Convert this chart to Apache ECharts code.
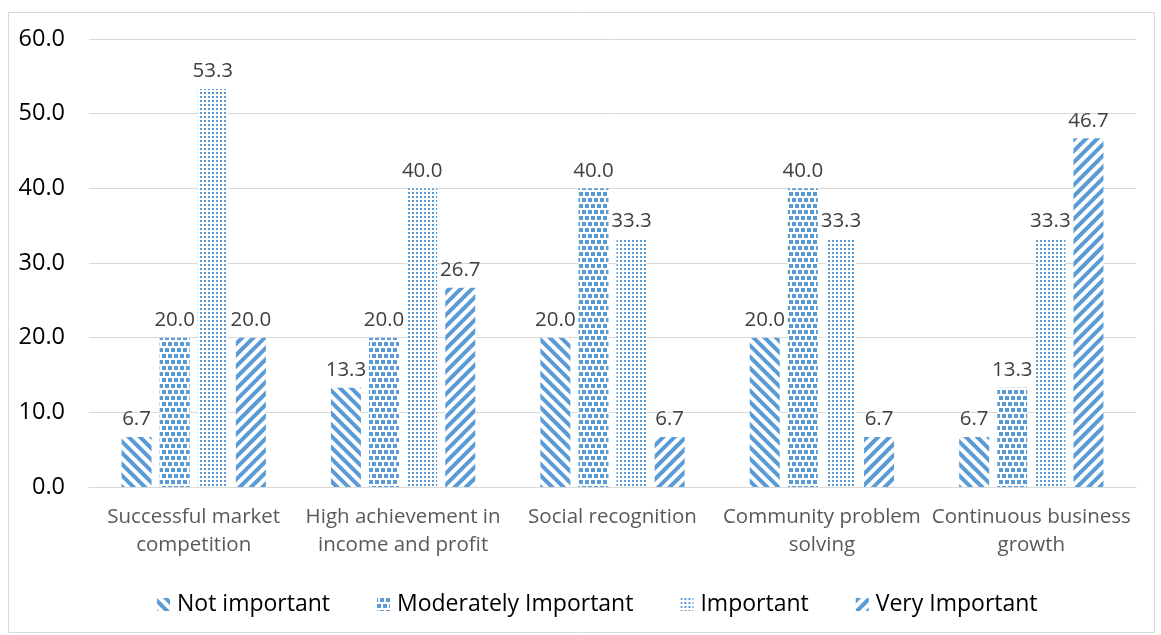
<!DOCTYPE html>
<html>
<head>
<meta charset="utf-8">
<script src="https://cdn.jsdelivr.net/npm/echarts@6/dist/echarts.min.js"></script>
<style>
  html, body { margin: 0; padding: 0; background: #fff; }
  #chart { width: 1161px; height: 635px; }
</style>
</head>
<body>
<div id="chart"></div>
<script>
// Survey results: share of respondents (%) rating each motive
const categories = [
  'Successful market\ncompetition',
  'High achievement in\nincome and profit',
  'Social recognition',
  'Community problem\nsolving',
  'Continuous business\ngrowth'
];
const seriesNames = ['Not important', 'Moderately Important', 'Important', 'Very Important'];
const notImportant = [6.7, 13.3, 20.0, 20.0, 6.7];
const moderatelyImportant = [20.0, 20.0, 40.0, 40.0, 13.3];
const important = [53.3, 40.0, 33.3, 33.3, 33.3];
const veryImportant = [20.0, 26.7, 6.7, 6.7, 46.7];
const yTicks = [0, 10, 20, 30, 40, 50, 60];

const BLUE = '#5B9BD5';
const FONT = 'Open Sans';

// Hatch patterns for each series
const decals = [
  { symbol: 'rect', symbolSize: 1, color: BLUE, dashArrayX: [1, 0], dashArrayY: [3.6, 3.6], rotation: Math.PI / 4 },
  { symbol: 'rect', symbolSize: 1, color: BLUE, dashArrayX: [[3.5, 2], [0.75, 2, 2.75, 0]], dashArrayY: [3.5, 2], rotation: 0 },
  { symbol: 'rect', symbolSize: 1, color: BLUE, dashArrayX: [1.3, 1.7], dashArrayY: [1.3, 1.7], rotation: 0 },
  { symbol: 'rect', symbolSize: 1, color: BLUE, dashArrayX: [1, 0], dashArrayY: [3.6, 3.6], rotation: -Math.PI / 4 }
];
const seriesData = [notImportant, moderatelyImportant, important, veryImportant];

const chart = echarts.init(document.getElementById('chart'), null, { renderer: 'canvas' });

chart.setOption({
  animation: false,
  textStyle: { fontFamily: FONT },
  graphic: [{
    type: 'rect',
    shape: { x: 8.5, y: 12.5, width: 1146, height: 620 },
    style: { fill: 'none', stroke: '#d9d9d9', lineWidth: 1 },
    silent: true
  }],
  grid: { left: 89, right: 25, top: 39, bottom: 148 },
  legend: {
    top: 588,
    left: 152,
    itemWidth: 13,
    itemHeight: 13,
    itemGap: 47,
    itemStyle: { borderWidth: 0 },
    icon: 'rect',
    textStyle: { fontFamily: FONT, fontSize: 23, color: '#000', padding: [0, 0, 0, 2] },
    data: seriesNames
  },
  xAxis: {
    type: 'category',
    data: categories,
    axisLine: { lineStyle: { color: '#d9d9d9', width: 1 } },
    axisTick: { show: false },
    axisLabel: { fontFamily: FONT, fontSize: 20.5, color: '#595959', margin: 16, lineHeight: 28, interval: 0 }
  },
  yAxis: {
    type: 'value',
    min: yTicks[0],
    max: yTicks[yTicks.length - 1],
    interval: 10,
    axisLine: { show: false },
    axisTick: { show: false },
    splitLine: { lineStyle: { color: '#d9d9d9', width: 1 } },
    axisLabel: { fontFamily: FONT, fontSize: 23.5, color: '#000', margin: 24, formatter: v => v.toFixed(1) }
  },
  series: seriesNames.map((name, i) => ({
    name,
    type: 'bar',
    data: seriesData[i],
    barWidth: 30,
    barGap: '27%',
    itemStyle: { color: '#ffffff', decal: decals[i], borderWidth: 0 },
    label: {
      show: true,
      position: 'top',
      distance: 7,
      fontFamily: FONT,
      fontSize: 20.5,
      color: '#404040',
      formatter: p => p.value.toFixed(1)
    }
  }))
});
</script>
</body>
</html>
